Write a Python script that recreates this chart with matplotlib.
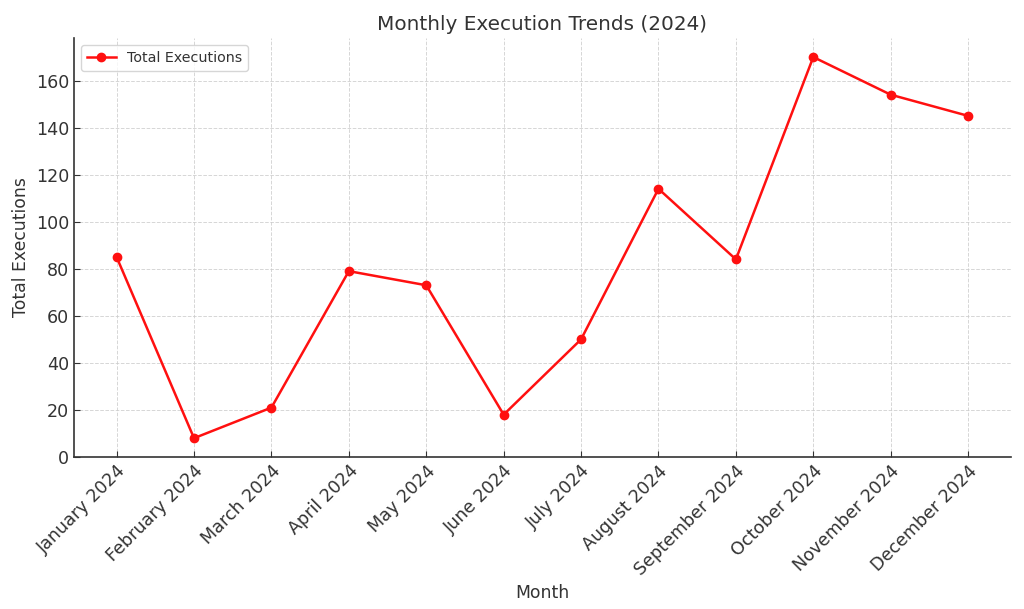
import matplotlib.pyplot as plt

months = ['January 2024', 'February 2024', 'March 2024', 'April 2024', 'May 2024',
          'June 2024', 'July 2024', 'August 2024', 'September 2024', 'October 2024',
          'November 2024', 'December 2024']
executions = [85, 8, 21, 79, 73, 18, 50, 114, 84, 170, 154, 145]

txt = '#333333'
plt.rcParams['text.color'] = txt
plt.rcParams['axes.labelcolor'] = txt
plt.rcParams['xtick.color'] = txt
plt.rcParams['ytick.color'] = txt

fig, ax = plt.subplots(figsize=(10.24, 6.09), dpi=100)
fig.subplots_adjust(left=0.0723, right=0.987, top=0.9376, bottom=0.2496)

ax.plot(months, executions, marker='o', color='#ff1010', linewidth=1.8,
        markersize=6, label='Total Executions')
ax.set_ylim(bottom=0)

ax.set_title('Monthly Execution Trends (2024)', fontsize=14.4, color=txt)
ax.set_xlabel('Month', fontsize=12.4)
ax.set_ylabel('Total Executions', fontsize=12.4)
ax.tick_params(axis='both', direction='in', labelsize=12.6, length=4)
plt.setp(ax.get_xticklabels(), rotation=45, ha='right', rotation_mode='anchor')

ax.grid(True, linestyle='--', color='#cccccc', alpha=0.8, linewidth=0.7)
ax.spines['top'].set_visible(False)
ax.spines['right'].set_visible(False)
ax.spines['left'].set_color(txt)
ax.spines['bottom'].set_color(txt)
ax.spines['left'].set_linewidth(1.2)
ax.spines['bottom'].set_linewidth(1.2)

ax.legend(loc='upper left', fontsize=10.3)

fig.savefig('out.png', dpi=100)
